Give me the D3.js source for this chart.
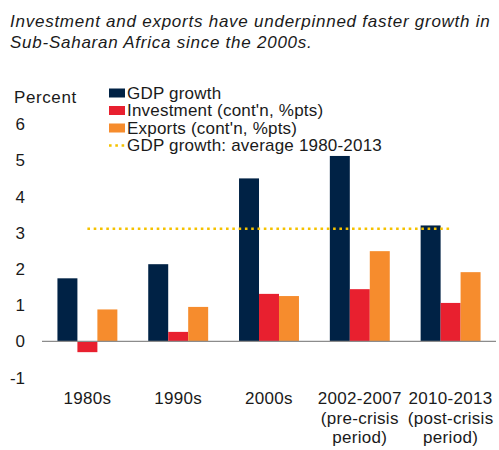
<!DOCTYPE html>
<head>
<style>
body { margin: 0; background: #fff; }
text { font-family: "Liberation Sans", Arial, sans-serif; fill: #1a1a1a; }
</style>
<meta charset="utf-8">
<title></title>
</head>
<body>
<script src="https://d3js.org/d3.v7.min.js"></script>
<script>
// data
var periods = ["1980s", "1990s", "2000s", "2002-2007", "2010-2013"];
var subLabels = [[], [], [], ["(pre-crisis", "period)"], ["(post-crisis", "period)"]];
var gdpGrowth = [1.74, 2.13, 4.5, 5.12, 3.2];
var investment = [-0.3, 0.26, 1.31, 1.44, 1.06];
var exportsCont = [0.88, 0.95, 1.25, 2.49, 1.91];
var avgGrowth = 3.11;
var yTicks = [-1, 0, 1, 2, 3, 4, 5, 6];
var seriesNames = ["GDP growth", "Investment (cont'n, %pts)", "Exports (cont'n, %pts)"];
var avgName = "GDP growth: average 1980-2013";
var colors = ["#002245", "#e8202f", "#f68c2d"];
var avgColor = "#f5c200";

var width = 499, height = 450;
var svg = d3.select("body").append("svg")
    .attr("width", width)
    .attr("height", height);

// title
svg.append("text").attr("x", 10).attr("y", 27)
    .style("font-size", "17px").style("font-style", "italic").style("letter-spacing", "0.75px")
    .text("Investment and exports have underpinned faster growth in");
svg.append("text").attr("x", 10).attr("y", 48)
    .style("font-size", "17px").style("font-style", "italic").style("letter-spacing", "0.75px")
    .text("Sub-Saharan Africa since the 2000s.");

var x = d3.scaleBand().domain(periods).range([42, 496])
    .paddingInner(0.34).paddingOuter(0.17);
var y = d3.scaleLinear().domain([-1, 6]).range([377.5, 124.1]);

var series = [gdpGrowth, investment, exportsCont];
var xs = d3.scaleBand().domain(d3.range(3)).range([0, x.bandwidth()]);

// y tick labels (no axis line)
svg.append("text").attr("x", 14).attr("y", 103)
    .style("font-size", "17px").style("letter-spacing", "0.6px").text("Percent");
svg.selectAll(".ytick").data(yTicks).enter().append("text")
    .attr("class", "ytick")
    .attr("x", 25)
    .attr("y", function(d) { return y(d) + 6; })
    .attr("text-anchor", "end")
    .style("font-size", "17px")
    .text(function(d) { return d; });

// bars
series.forEach(function(vals, s) {
    svg.append("g").selectAll("rect").data(vals).enter().append("rect")
        .attr("x", function(d, i) { return x(periods[i]) + xs(s); })
        .attr("width", xs.bandwidth())
        .attr("y", function(d) { return y(Math.max(0, d)); })
        .attr("height", function(d) { return Math.abs(y(d) - y(0)); })
        .attr("fill", colors[s]);
});

// zero line
svg.append("line")
    .attr("x1", 42).attr("x2", 496)
    .attr("y1", y(0)).attr("y2", y(0))
    .attr("stroke", "#8c8c8c").attr("stroke-width", 1.2);

// average line
var first = periods[0], last = periods[periods.length - 1];
svg.append("line")
    .attr("x1", x(first) + x.bandwidth() / 2)
    .attr("x2", x(last) + x.bandwidth() / 2)
    .attr("y1", y(avgGrowth)).attr("y2", y(avgGrowth))
    .attr("stroke", avgColor).attr("stroke-width", 2.6)
    .attr("stroke-dasharray", "2.6,3.7");

// x labels
var xl = svg.append("g").selectAll("text").data(periods).enter().append("text")
    .attr("text-anchor", "middle")
    .attr("x", function(d) { return x(d) + x.bandwidth() / 2; })
    .attr("y", 404)
    .style("font-size", "17px").style("letter-spacing", "0.3px");
xl.append("tspan").text(function(d) { return d; });
xl.each(function(d, i) {
    var t = d3.select(this);
    subLabels[i].forEach(function(s) {
        t.append("tspan").attr("x", x(d) + x.bandwidth() / 2).attr("dy", 19.5).text(s);
    });
});

// legend
var lg = svg.append("g");
seriesNames.forEach(function(n, i) {
    var yy = 93 + i * 17.5;
    lg.append("rect").attr("x", 109).attr("y", yy - 4.5).attr("width", 16).attr("height", 9)
        .attr("fill", colors[i]);
    lg.append("text").attr("x", 127).attr("y", yy + 5.8)
        .style("font-size", "17px").style("letter-spacing", "0.2px").text(n);
});
lg.append("line").attr("x1", 109).attr("x2", 125)
    .attr("y1", 145.5).attr("y2", 145.5)
    .attr("stroke", avgColor).attr("stroke-width", 2.6)
    .attr("stroke-dasharray", "2.6,3.7");
lg.append("text").attr("x", 127).attr("y", 151.3)
    .style("font-size", "17px").style("letter-spacing", "0.2px").text(avgName);
</script>
</body>
</html>
